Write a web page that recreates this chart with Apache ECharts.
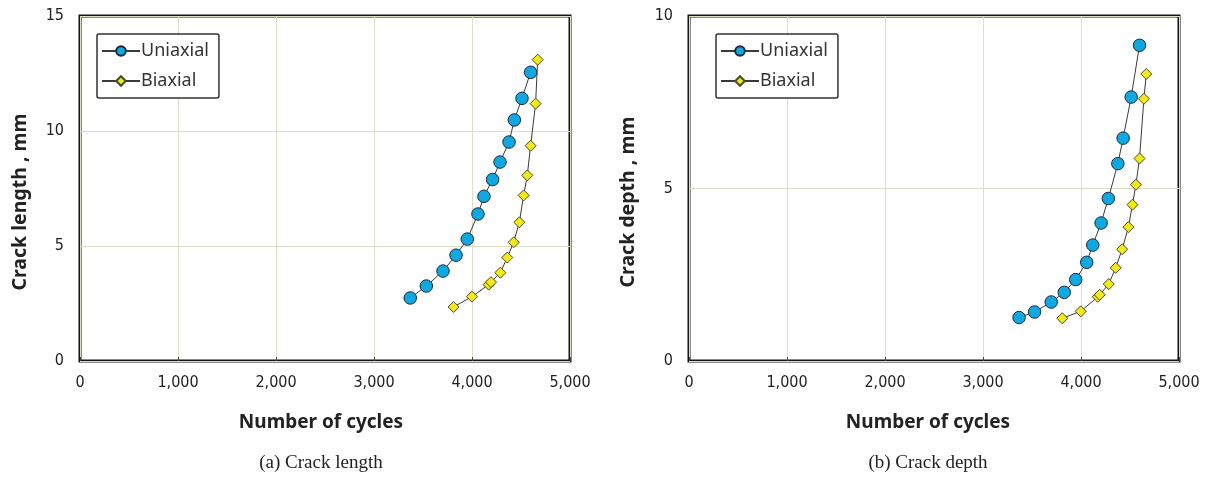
<!DOCTYPE html>
<html><head><meta charset="utf-8">
<script src="https://cdn.jsdelivr.net/npm/echarts@6/dist/echarts.min.js"></script>
<style>html,body{margin:0;padding:0;background:#fff}#c{width:1210px;height:481px}</style>
</head><body><div id="c"></div>
<script>
// (a) Crack length
const lenUniCycles = [3370,3534,3704,3837,3952,4061,4122,4210,4286,4378,4432,4510,4598];
const lenUniValues = [2.74,3.26,3.91,4.60,5.30,6.39,7.16,7.89,8.65,9.52,10.48,11.42,12.55];
const lenBiCycles  = [3812,4000,4170,4194,4289,4360,4425,4483,4527,4564,4598,4649,4670];
const lenBiValues  = [2.35,2.80,3.32,3.43,3.84,4.50,5.16,6.03,7.20,8.07,9.36,11.19,13.10];
// (b) Crack depth
const depUniCycles = [3368,3526,3696,3829,3946,4058,4120,4205,4279,4376,4430,4512,4597];
const depUniValues = [1.26,1.42,1.71,1.99,2.36,2.86,3.36,4.00,4.71,5.72,6.46,7.65,9.15];
const depBiCycles  = [3809,3997,4171,4191,4283,4354,4420,4484,4525,4560,4597,4642,4666];
const depBiValues  = [1.24,1.44,1.86,1.92,2.23,2.70,3.24,3.88,4.53,5.11,5.87,7.60,8.32];

const xTitle = 'Number of cycles';
const yTitles = ['Crack length , mm', 'Crack depth , mm'];
const captions = ['(a) Crack length', '(b) Crack depth'];
const seriesNames = ['Uniaxial', 'Biaxial'];

const zip = (a, b) => a.map((v, i) => [v, b[i]]);
const fmt = v => v >= 1000 ? Math.floor(v / 1000) + ',' + String(v % 1000).padStart(3, '0') : String(v);

const chart = echarts.init(document.getElementById('c'), null, {renderer: 'canvas'});
const grids = [
  {left: 80, right: 640, top: 16, bottom: 120},
  {left: 689, right: 31, top: 16, bottom: 120}
];
const gridColor = '#deddc6';
const tickFont = '"DejaVu Sans Condensed", "DejaVu Sans"';
const xAxes = [0, 1].map(i => ({
  type: 'value', gridIndex: i, min: 0, max: 5000, interval: 1000,
  axisLine: {show: false},
  axisTick: {show: true, inside: true, length: 4, lineStyle: {color: '#444'}},
  axisLabel: {formatter: fmt, color: '#222', fontFamily: tickFont, fontSize: 16, margin: 14},
  splitLine: {show: true, lineStyle: {color: gridColor, width: 1}}
}));
const yAxes = [
  {max: 15, interval: 5},
  {max: 10, interval: 5}
].map((o, i) => ({
  type: 'value', gridIndex: i, min: 0, max: o.max, interval: o.interval,
  axisLine: {show: false},
  axisTick: {show: false},
  axisLabel: {color: '#222', fontFamily: tickFont, fontSize: 16, margin: 16},
  splitLine: {show: true, lineStyle: {color: gridColor, width: 1}}
}));

const circleStyle = {color: '#10a8e0', borderColor: '#1a2a3a', borderWidth: 1};
const diamondStyle = {color: '#f2ea14', borderColor: '#4a4a2a', borderWidth: 1};
const lineStyle = {color: '#3a3a3a', width: 1};

function mk(name, gi, data, sym) {
  const circ = sym === 'circle';
  return {
    name, type: 'line', xAxisIndex: gi, yAxisIndex: gi, data,
    symbol: circ ? 'circle' : 'diamond', symbolSize: circ ? 12.5 : 11,
    showAllSymbol: true, animation: false,
    lineStyle, itemStyle: circ ? circleStyle : diamondStyle,
    emphasis: {disabled: true}
  };
}

const legends = [[97, 34], [716, 34]].map(([l, t]) => ({
  left: l, top: t, orient: 'vertical',
  data: seriesNames,
  itemWidth: 38, itemHeight: 12, itemGap: 12,
  padding: [8, 10, 8, 4],
  borderColor: '#333', borderWidth: 1.5, borderRadius: 2,
  backgroundColor: '#fff',
  textStyle: {fontFamily: 'Noto Sans', fontSize: 18, color: '#333', padding: [0, 0, 0, -4]},
  selectedMode: false
}));

const centersX = [321, 928];
const yTitleX = [20, 628];
const graphics = [];
[0, 1].forEach(i => {
  graphics.push({type: 'text', x: centersX[i], y: 423, style: {text: xTitle, font: 'bold 19px "Noto Sans"', fill: '#222', align: 'center', verticalAlign: 'middle'}});
  graphics.push({type: 'text', x: centersX[i], y: 463, style: {text: captions[i], font: '19px "Liberation Serif"', fill: '#222', align: 'center', verticalAlign: 'middle'}});
  graphics.push({type: 'text', x: yTitleX[i], y: 202, rotation: Math.PI / 2, style: {text: yTitles[i], font: 'bold 19.5px "Noto Sans"', fill: '#222', align: 'center', verticalAlign: 'middle'}});
});

chart.setOption({
  animation: false,
  backgroundColor: '#fff',
  grid: grids.map(g => Object.assign({show: true, borderColor: '#151515', borderWidth: 3, backgroundColor: 'transparent'}, g)),
  xAxis: xAxes,
  yAxis: yAxes,
  legend: legends,
  series: [
    mk(seriesNames[0], 0, zip(lenUniCycles, lenUniValues), 'circle'),
    mk(seriesNames[1], 0, zip(lenBiCycles, lenBiValues), 'diamond'),
    mk(seriesNames[0], 1, zip(depUniCycles, depUniValues), 'circle'),
    mk(seriesNames[1], 1, zip(depBiCycles, depBiValues), 'diamond')
  ],
  graphic: graphics
});
</script></body></html>
